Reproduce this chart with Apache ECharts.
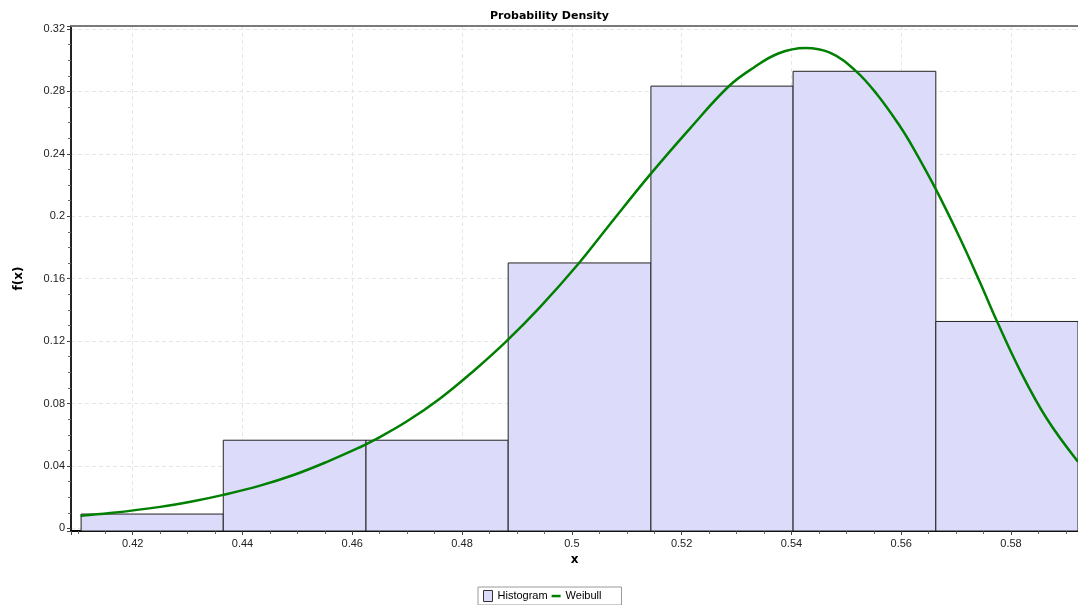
<!DOCTYPE html>
<html>
<head>
<meta charset="utf-8">
<script src="https://cdn.jsdelivr.net/npm/echarts@6/dist/echarts.min.js"></script>
<style>
  html, body { margin: 0; padding: 0; background: #ffffff; }
  #chart { width: 1078px; height: 605px; }
</style>
</head>
<body>
<div id="chart"></div>
<script>
// Histogram bins: edges (lower/upper bounds) and density heights
const binEdges = [0.4106, 0.4365, 0.4625, 0.4884, 0.5144, 0.5403, 0.5663, 0.5922];
const binDensity = [0.0092, 0.0565, 0.0565, 0.1701, 0.2834, 0.2929, 0.1326];

// Fitted Weibull density curve, sampled points
const weibullX = [0.4105, 0.4159, 0.4250, 0.4310, 0.4365, 0.4432, 0.4493, 0.4553, 0.4614, 0.4638,
                  0.4699, 0.4760, 0.4821, 0.4881, 0.4942, 0.5012, 0.5064, 0.5142, 0.5215, 0.5285,
                  0.5331, 0.5376, 0.5425, 0.5470, 0.5516, 0.5555, 0.5598, 0.5622, 0.5662, 0.5707,
                  0.5744, 0.5774, 0.5817, 0.5865, 0.5922];
const weibullY = [0.0081, 0.0098, 0.0138, 0.0174, 0.0215, 0.0274, 0.0342, 0.0425, 0.0520, 0.0562,
                  0.0685, 0.0833, 0.1009, 0.1200, 0.1418, 0.1696, 0.1925, 0.2265, 0.2562, 0.2830,
                  0.2952, 0.3043, 0.3078, 0.3048, 0.2935, 0.2785, 0.2575, 0.2437, 0.2180, 0.1859,
                  0.1572, 0.1330, 0.1008, 0.0704, 0.0427];

// Axis extents and tick steps
const xRange = [0.40876, 0.5922];
const yRange = [-0.00166, 0.32192];
const xStep = 0.02;
const yStep = 0.04;

const histData = binDensity.map((h, i) => [binEdges[i], binEdges[i + 1], h]);
const curveData = weibullX.map((x, i) => [x, weibullY[i]]);

const labelFont = 'Liberation Sans, Arial, sans-serif';
const boldFont = 'DejaVu Sans, sans-serif';
const histFill = '#dcdcfa';
const curveColor = '#008000';

const gridLine = { show: true, showMinLine: false, showMaxLine: false, lineStyle: { color: '#e6e6e6', type: [4, 3] } };

const chart = echarts.init(document.getElementById('chart'), null, { renderer: 'canvas' });

chart.setOption({
  animation: false,
  backgroundColor: '#ffffff',
  title: {
    text: 'Probability Density',
    left: 485,
    top: 6,
    textStyle: { fontFamily: boldFont, fontWeight: 'bold', fontSize: 11, color: '#000' }
  },
  legend: {
    left: 478,
    top: 587,
    padding: [3, 20, 3, 5],
    itemGap: 4,
    itemWidth: 9,
    itemHeight: 11,
    borderColor: '#9a9a9a',
    borderWidth: 1,
    textStyle: { fontFamily: labelFont, fontSize: 11, color: '#000' },
    data: [
      { name: 'Histogram', icon: 'rect', itemStyle: { color: histFill, borderColor: '#333', borderWidth: 1 } },
      { name: 'Weibull', icon: 'path://M0,0 M0,4.3 H9 V6.8 H0 Z M9,11', itemStyle: { color: curveColor } }
    ]
  },
  grid: {
    left: 71,
    right: 0,
    top: 26,
    bottom: 74
  },
  xAxis: [
    {
      type: 'value',
      min: xRange[0],
      max: xRange[1],
      splitNumber: 9,
      minInterval: xStep,
      maxInterval: xStep,
      name: 'x',
      nameLocation: 'middle',
      nameGap: 19,
      nameTextStyle: { fontFamily: boldFont, fontWeight: 'bold', fontSize: 12, color: '#000' },
      axisLine: { onZero: false, lineStyle: { color: '#000', width: 2 } },
      axisTick: { length: 4, lineStyle: { color: '#444' } },
      minorTick: { show: true, splitNumber: 4, length: 3, lineStyle: { color: '#666' } },
      axisLabel: { showMinLabel: false, showMaxLabel: false, fontFamily: labelFont, fontSize: 11, color: '#222', margin: 7 },
      splitLine: gridLine
    },
    {
      // top frame line of the plot area
      type: 'value',
      position: 'top',
      min: xRange[0],
      max: xRange[1],
      axisLine: { show: true, onZero: false, lineStyle: { color: '#7a7a7a', width: 2 } },
      axisTick: { show: false },
      axisLabel: { show: false },
      splitLine: { show: false }
    }
  ],
  yAxis: {
    type: 'value',
    min: yRange[0],
    max: yRange[1],
    splitNumber: 8,
    minInterval: yStep,
    maxInterval: yStep,
    name: 'f(x)',
    nameLocation: 'middle',
    nameGap: 46,
    nameTextStyle: { fontFamily: boldFont, fontWeight: 'bold', fontSize: 12, color: '#000' },
    axisLine: { show: true, onZero: false, lineStyle: { color: '#222', width: 2 } },
    axisTick: { show: true, length: 4, lineStyle: { color: '#444' } },
    minorTick: { show: true, splitNumber: 4, length: 3, lineStyle: { color: '#666' } },
    axisLabel: { showMinLabel: false, showMaxLabel: false, fontFamily: labelFont, fontSize: 11, color: '#222', margin: 6 },
    splitLine: gridLine
  },
  series: [
    {
      name: 'Histogram',
      type: 'custom',
      itemStyle: { color: histFill, borderColor: '#222' },
      encode: { x: [0, 1], y: 2 },
      data: histData,
      z: 2,
      renderItem: function (params, api) {
        const topLeft = api.coord([api.value(0), api.value(2)]);
        const right = api.coord([api.value(1), 0]);
        const base = params.coordSys.y + params.coordSys.height;
        return {
          type: 'rect',
          shape: { x: topLeft[0], y: topLeft[1], width: right[0] - topLeft[0], height: base - topLeft[1] },
          style: { fill: histFill, stroke: '#222', lineWidth: 1 }
        };
      }
    },
    {
      name: 'Weibull',
      type: 'line',
      data: curveData,
      symbol: 'none',
      smooth: 0.4,
      z: 3,
      itemStyle: { color: curveColor },
      lineStyle: { color: curveColor, width: 2.5 }
    }
  ]
});
</script>
</body>
</html>
